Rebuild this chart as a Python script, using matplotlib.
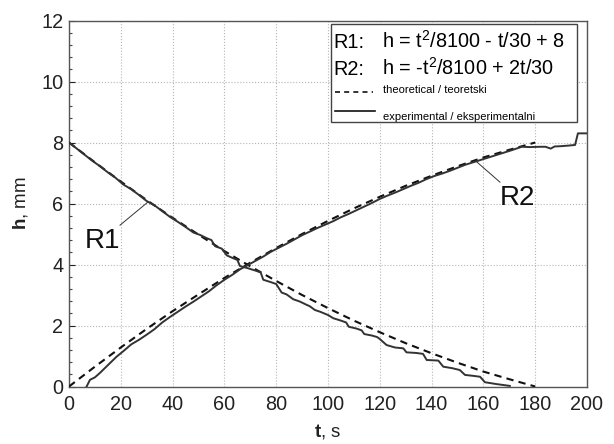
import matplotlib
matplotlib.use("Agg")
import matplotlib.pyplot as plt
from matplotlib.lines import Line2D
from matplotlib.patches import Rectangle

plt.rcParams['font.family'] = ['Liberation Sans', 'DejaVu Sans']
plt.rcParams['mathtext.fontset'] = 'custom'
plt.rcParams['mathtext.rm'] = 'Liberation Sans'
plt.rcParams['mathtext.bf'] = 'Liberation Sans:bold'
plt.rcParams['mathtext.it'] = 'Liberation Sans:italic'

# ---- data ----
t_theo = [0, 10, 20, 30, 40, 50, 60, 70, 80, 90, 100, 110, 120, 130, 140, 150, 160, 170, 180]
r1_theo = [8.00, 7.35, 6.72, 6.11, 5.53, 4.98, 4.44, 3.94, 3.46, 3.00, 2.57, 2.16,
           1.78, 1.42, 1.09, 0.78, 0.49, 0.24, 0.00]
r2_theo = [0.00, 0.65, 1.28, 1.89, 2.47, 3.02, 3.56, 4.06, 4.54, 5.00, 5.43, 5.84,
           6.22, 6.58, 6.91, 7.22, 7.51, 7.76, 8.00]

t_r1_exp = [0, 3, 6, 9, 12, 15, 18, 21, 24, 27, 30, 33, 36, 39, 42, 45, 48, 50.6, 53, 55, 56.4,
            59, 60.9, 63, 65, 66, 69, 72, 74, 75, 78, 80, 82.1, 84, 86.6, 89, 91.7, 93, 94.9,
            97, 100.1, 102, 105, 107, 108, 111, 113, 114, 117, 119, 120.1, 122.6, 125.8, 129.1,
            130.3, 134, 136.7, 138.1, 142.6, 144.5, 148, 150.9, 152.9, 156, 158.7, 160.6, 165, 170.2]
r1_exp = [8.00, 7.80, 7.60, 7.40, 7.22, 7.02, 6.84, 6.62, 6.47, 6.28, 6.08, 5.94, 5.75, 5.56,
          5.40, 5.23, 5.05, 4.97, 4.87, 4.80, 4.60, 4.52, 4.30, 4.22, 4.15, 3.95, 3.88, 3.80,
          3.74, 3.50, 3.42, 3.36, 3.08, 3.02, 2.86, 2.79, 2.68, 2.63, 2.51, 2.45, 2.34, 2.24,
          2.16, 2.10, 1.96, 1.90, 1.84, 1.72, 1.67, 1.62, 1.55, 1.36, 1.28, 1.25, 1.12, 1.10,
          1.07, 0.87, 0.85, 0.65, 0.60, 0.54, 0.38, 0.35, 0.32, 0.14, 0.08, 0.02]

t_r2_exp = [6.8, 8.1, 10, 12, 15, 18.4, 21, 24, 27, 30, 33, 36, 39, 42, 45, 48, 51, 54, 57, 60,
            63, 66, 68.6, 72, 75, 78, 81, 84, 87, 90, 93, 96, 99, 102, 105, 108, 111, 114, 117,
            120, 123, 126, 129, 132, 135, 138, 141, 144, 147, 150, 153, 156, 159, 162, 165, 168,
            171, 174.8, 178, 182, 184, 186, 187.5, 190, 193, 195.4, 196.5, 200]
r2_exp = [0.00, 0.22, 0.30, 0.45, 0.70, 0.98, 1.16, 1.38, 1.53, 1.70, 1.88, 2.10, 2.28, 2.45,
          2.62, 2.78, 2.95, 3.12, 3.32, 3.50, 3.66, 3.84, 3.96, 4.12, 4.26, 4.42, 4.55, 4.68,
          4.82, 4.96, 5.08, 5.20, 5.31, 5.42, 5.55, 5.66, 5.78, 5.90, 6.02, 6.15, 6.26, 6.36,
          6.47, 6.58, 6.68, 6.80, 6.90, 6.98, 7.07, 7.17, 7.27, 7.35, 7.43, 7.51, 7.59, 7.67,
          7.75, 7.86, 7.85, 7.86, 7.86, 7.80, 7.87, 7.88, 7.90, 7.92, 8.30, 8.30]

x_ticks = [0, 20, 40, 60, 80, 100, 120, 140, 160, 180, 200]
y_ticks = [0, 2, 4, 6, 8, 10, 12]

# ---- figure ----
fig = plt.figure(figsize=(6.14, 4.44), dpi=100)
ax = fig.add_axes([0.1124, 0.1295, 0.8436, 0.8243])

ax.plot(t_theo, r1_theo, color='#111111', lw=1.5, ls=(0, (3.5, 2.5)), zorder=3)
ax.plot(t_theo, r2_theo, color='#111111', lw=1.5, ls=(0, (3.5, 2.5)), zorder=3)
ax.plot(t_r1_exp, r1_exp, color='#333333', lw=1.4, zorder=4)
ax.plot(t_r2_exp, r2_exp, color='#333333', lw=1.4, zorder=4)

ax.set_xlim(0, 200)
ax.set_ylim(0, 12)
ax.set_xticks(x_ticks)
ax.set_yticks(y_ticks)
ax.set_yticks([v * 0.4 for v in range(31)], minor=True)
ax.tick_params(axis='x', length=0, pad=6, labelsize=14.3, colors='#222222')
ax.tick_params(axis='y', which='major', direction='in', length=4, width=0.8, pad=4,
               labelsize=14.3, colors='#222222')
ax.tick_params(axis='y', which='minor', direction='in', length=2.5, width=0.8, colors='#444444')
ax.grid(True, which='major', ls=':', color='#b5b5b5', lw=0.8)
for s in ax.spines.values():
    s.set_color('#555555')
    s.set_linewidth(1.0)

ax.set_xlabel(r'$\mathbf{t}$, s', fontsize=13.5, labelpad=6, color='#222222')
ax.set_ylabel(r'$\mathbf{h}$, mm', fontsize=13.5, labelpad=8, color='#222222')

# annotations
ax.text(6.2, 4.54, 'R1', fontsize=20, ha='left', va='baseline', color='#111111')
ax.plot([19.7, 30.5], [5.29, 6.05], color='#333333', lw=0.7)
ax.text(166.4, 5.95, 'R2', fontsize=20, ha='left', va='baseline', color='#111111')
ax.plot([166.4, 157.5], [6.70, 7.36], color='#333333', lw=0.7)

# legend box (axes fraction)
def fx(px):
    return (px - 69) / 518.0

def fy(py):
    return (386.5 - py) / 366.0

box = Rectangle((fx(331), fy(122)), fx(577) - fx(331), fy(24) - fy(122),
                transform=ax.transAxes, facecolor='white', edgecolor='#444444',
                lw=1.0, zorder=6)
ax.add_patch(box)
ax.text(fx(333), fy(48), 'R1:', transform=ax.transAxes, fontsize=14.3, va='baseline', zorder=7)
ax.text(fx(382), fy(48), r'h = $\mathregular{t^2}$/8100 - t/30 + 8', transform=ax.transAxes,
        fontsize=14.3, va='baseline', zorder=7)
ax.text(fx(333), fy(75), 'R2:', transform=ax.transAxes, fontsize=14.3, va='baseline', zorder=7)
ax.text(fx(382), fy(75), r'h = -$\mathregular{t^2}$/8100 + 2t/30', transform=ax.transAxes,
        fontsize=14.3, va='baseline', zorder=7)
ax.add_line(Line2D([fx(335), fx(373)], [fy(91.5), fy(91.5)], transform=ax.transAxes,
                   color='#111111', lw=1.2, ls=(0, (3, 2.5)), zorder=7))
ax.text(fx(383), fy(90), 'theoretical / teoretski', transform=ax.transAxes,
        fontsize=8, va='center', zorder=7)
ax.add_line(Line2D([fx(335), fx(375)], [fy(110.5), fy(110.5)], transform=ax.transAxes,
                   color='#111111', lw=1.2, zorder=7))
ax.text(fx(383), fy(117), 'experimental / eksperimentalni', transform=ax.transAxes,
        fontsize=8, va='center', zorder=7)

fig.savefig('out.png', dpi=100)
